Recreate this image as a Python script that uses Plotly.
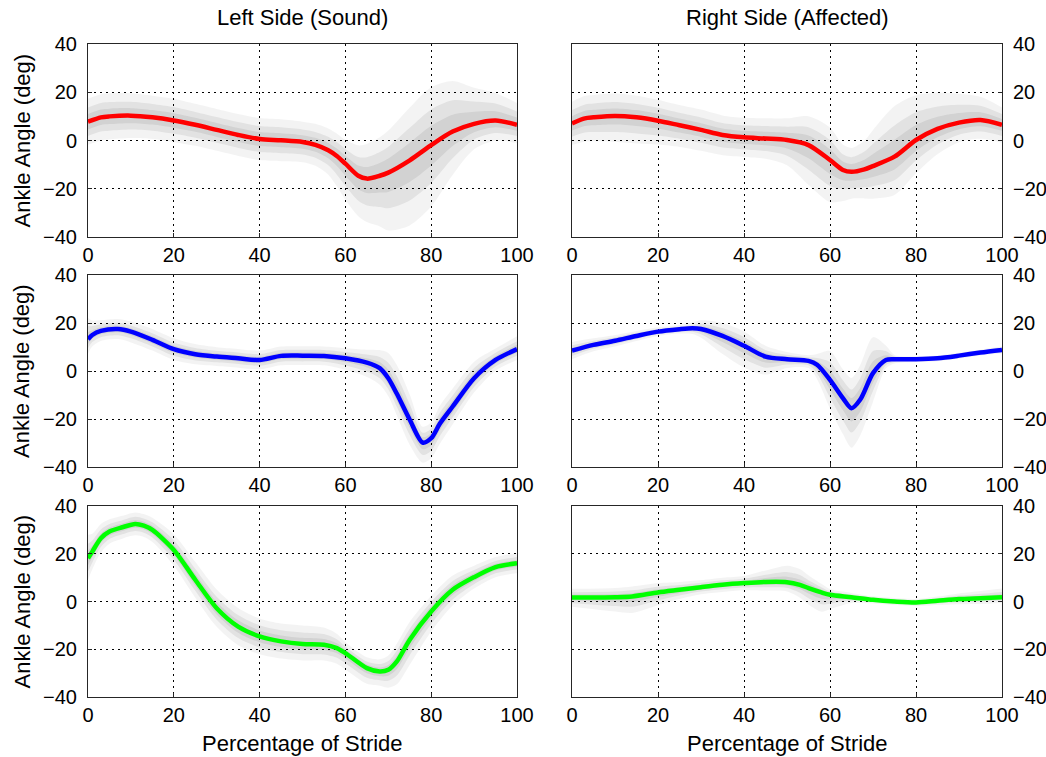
import plotly.graph_objects as go

# ---------------- data ----------------
TITLES = ["Left Side (Sound)", "Right Side (Affected)"]
Y_TITLE = "Ankle Angle (deg)"
X_TITLE = "Percentage of Stride"
X_TICKS = [0, 20, 40, 60, 80, 100]
Y_TICKS = [-40, -20, 0, 20, 40]

# band multipliers of the spread (outer, middle, inner)
BAND_K = [3.0, 1.85, 1.0]

# Row 1, left (red)
x1 = [0, 3, 5, 10, 15, 20, 25, 30, 35, 40, 45, 50, 53, 56, 58, 60, 63, 65, 68, 70, 75, 80, 85, 90, 95, 100]
mean1 = [7.8, 9.6, 10.0, 10.3, 9.6, 8.3, 6.5, 4.4, 2.3, 0.6, 0.1, -0.6, -1.8, -4.0, -6.4, -9.6, -14.6, -15.8, -14.6, -13.3, -8.2, -1.9, 3.7, 6.9, 8.3, 6.5]
up1 = [3.2, 3.2, 3.2, 3.1, 3.0, 3.0, 2.9, 2.9, 2.9, 2.9, 2.9, 2.8, 2.9, 3.0, 3.1, 3.3, 4.2, 4.8, 5.3, 5.8, 7.3, 8.0, 7.0, 5.0, 3.8, 3.0]
dn1 = [3.2, 3.2, 3.2, 3.1, 3.0, 3.0, 2.9, 2.9, 2.9, 2.9, 2.9, 2.8, 2.9, 3.4, 4.2, 5.0, 5.6, 6.0, 7.0, 8.0, 9.0, 8.5, 6.0, 3.5, 2.8, 2.5]

# Row 1, right (red)
x2 = [0, 3, 5, 10, 15, 20, 25, 30, 35, 40, 45, 50, 55, 60, 63, 65, 68, 70, 75, 80, 85, 90, 95, 100]
mean2 = [7.1, 9.2, 9.6, 10.2, 9.6, 8.2, 6.3, 4.4, 2.3, 1.3, 0.8, 0.2, -1.9, -8.1, -12.2, -13.0, -12.0, -10.6, -6.7, 0.2, 4.8, 7.4, 8.5, 6.5]
up2 = [3.0, 3.1, 3.1, 3.1, 3.0, 2.9, 2.8, 2.8, 2.7, 2.7, 2.8, 3.0, 4.0, 4.5, 3.5, 3.3, 4.0, 5.0, 7.0, 6.2, 5.0, 4.0, 3.2, 2.4]
dn2 = [3.0, 3.2, 3.3, 3.6, 3.6, 3.3, 3.0, 2.9, 2.8, 2.7, 2.8, 3.5, 5.5, 5.8, 4.3, 3.7, 4.0, 4.5, 5.3, 4.6, 3.5, 2.7, 2.6, 2.5]

# Row 2, left (blue)
x3 = [0, 1, 3, 7, 10, 15, 20, 25, 30, 35, 40, 45, 50, 55, 60, 65, 68, 70, 72, 75, 78, 80, 82, 85, 90, 95, 100]
mean3 = [13.2, 15.0, 16.7, 17.5, 16.4, 13.0, 9.1, 7.0, 6.0, 5.3, 4.6, 6.3, 6.4, 6.3, 5.3, 3.5, 1.2, -3.0, -9.5, -20.3, -29.8, -28.0, -22.0, -14.8, -3.0, 4.6, 9.1]
up3 = [3.0, 2.0, 1.5, 1.4, 1.4, 1.5, 1.5, 1.4, 1.3, 1.3, 1.3, 1.3, 1.3, 1.3, 1.4, 1.8, 2.5, 3.5, 4.0, 3.5, 2.2, 2.2, 2.5, 2.5, 2.3, 1.6, 1.8]
dn3 = [2.0, 1.6, 1.4, 1.4, 1.5, 1.5, 1.5, 1.4, 1.3, 1.3, 1.3, 1.3, 1.3, 1.3, 1.6, 2.0, 2.3, 2.5, 3.0, 3.5, 2.8, 2.8, 2.8, 2.5, 2.0, 1.5, 1.5]

# Row 2, right (blue)
x4 = [0, 5, 10, 15, 20, 25, 28, 30, 35, 40, 45, 50, 55, 57, 60, 63, 65, 67, 70, 73, 75, 80, 85, 90, 95, 100]
mean4 = [8.5, 10.9, 12.6, 14.6, 16.4, 17.4, 17.8, 17.5, 14.6, 10.5, 6.0, 4.9, 4.2, 2.6, -3.7, -11.3, -15.5, -12.0, -0.9, 4.6, 4.9, 4.9, 5.3, 6.4, 7.7, 8.8]
up4 = [1.2, 0.9, 0.8, 0.7, 0.6, 0.6, 0.8, 1.2, 1.8, 2.0, 1.5, 1.0, 0.8, 1.5, 4.0, 4.0, 4.2, 4.8, 5.0, 2.0, 0.6, 0.4, 0.4, 0.4, 0.4, 0.5]
dn4 = [1.2, 0.9, 0.8, 0.7, 0.6, 0.6, 0.8, 1.2, 2.5, 3.0, 2.5, 1.2, 1.0, 2.0, 4.0, 5.0, 5.5, 5.0, 4.0, 1.2, 0.6, 0.4, 0.4, 0.4, 0.4, 0.5]

# Row 3, left (green)
x5 = [0, 1, 3, 5, 8, 11, 13, 15, 20, 25, 30, 35, 40, 45, 50, 55, 58, 60, 65, 68, 70, 72, 75, 80, 85, 90, 95, 100]
mean5 = [18.1, 20.9, 26.5, 29.3, 31.1, 32.5, 31.8, 30.0, 21.6, 9.1, -2.8, -10.5, -14.6, -16.7, -17.8, -18.1, -19.5, -21.6, -27.9, -29.3, -28.6, -25.1, -16.0, -4.2, 4.9, 10.2, 14.4, 16.0]
up5 = [3.3, 2.5, 2.0, 1.7, 1.6, 1.6, 1.6, 1.7, 2.2, 2.5, 2.6, 2.6, 2.5, 2.5, 2.6, 2.4, 2.0, 1.5, 1.5, 1.7, 2.0, 2.5, 2.5, 2.2, 2.0, 1.6, 1.4, 1.4]
dn5 = [3.0, 2.5, 2.0, 1.7, 1.6, 1.6, 1.6, 1.7, 2.2, 2.5, 2.6, 2.6, 2.5, 2.4, 2.3, 2.2, 2.2, 2.3, 2.2, 2.0, 2.5, 3.2, 3.5, 2.8, 2.2, 1.6, 1.4, 1.4]

# Row 3, right (green)
x6 = [0, 10, 14, 20, 25, 30, 35, 40, 45, 50, 53, 55, 58, 60, 65, 70, 75, 80, 85, 90, 95, 100]
mean6 = [1.7, 1.8, 2.1, 3.8, 4.9, 6.0, 7.0, 7.7, 8.2, 8.1, 7.0, 5.6, 3.8, 2.8, 1.8, 0.7, 0.0, -0.4, 0.3, 1.0, 1.4, 1.8]
up6 = [1.2, 1.3, 1.4, 1.3, 1.1, 1.0, 1.0, 1.0, 1.6, 2.3, 2.2, 1.8, 1.2, 0.8, 0.6, 0.5, 0.5, 0.5, 0.6, 0.8, 1.0, 1.2]
dn6 = [1.3, 2.0, 2.3, 1.8, 1.3, 1.0, 1.0, 1.0, 1.2, 1.3, 1.8, 2.3, 2.7, 2.0, 0.8, 0.5, 0.5, 0.5, 0.6, 0.7, 0.8, 0.8]

PANELS = [
    (x1, mean1, up1, dn1, "#ff0000"),
    (x2, mean2, up2, dn2, "#ff0000"),
    (x3, mean3, up3, dn3, "#0000ff"),
    (x4, mean4, up4, dn4, "#0000ff"),
    (x5, mean5, up5, dn5, "#00ff00"),
    (x6, mean6, up6, dn6, "#00ff00"),
]

# ---------------- styling ----------------
FONT = "Liberation Sans, Arial, Helvetica, sans-serif"
FS = 20
FS_TITLE = 22
BAND_FILL = ["rgba(0,0,0,0.047)", "rgba(0,0,0,0.066)", "rgba(0,0,0,0.07)"]

W, H = 1046, 757
ML, MR, MT, MB = 88, 44, 44, 60
PW, PH = W - ML - MR, H - MT - MB


def xdom(l, r):
    return [(l - ML) / PW, (r - ML) / PW]


def ydom(t, b):
    return [(H - MB - b) / PH, (H - MB - t) / PH]


X_DOMS = [xdom(88, 517), xdom(572, 1002)]
Y_DOMS = [ydom(44, 237), ydom(275, 467), ydom(506, 697)]

fig = go.Figure()

for i, (xs, m, su, sd, col) in enumerate(PANELS):
    n = i + 1
    xa = "x" if n == 1 else f"x{n}"
    ya = "y" if n == 1 else f"y{n}"
    for k, fc in zip(BAND_K, BAND_FILL):
        lo = [mv - k * d for mv, d in zip(m, sd)]
        hi = [mv + k * u for mv, u in zip(m, su)]
        fig.add_trace(go.Scatter(x=xs, y=lo, mode="lines", line=dict(width=0, shape="spline", smoothing=0.8),
                                 xaxis=xa, yaxis=ya, showlegend=False, hoverinfo="skip"))
        fig.add_trace(go.Scatter(x=xs, y=hi, mode="lines", line=dict(width=0, shape="spline", smoothing=0.8),
                                 fill="tonexty", fillcolor=fc,
                                 xaxis=xa, yaxis=ya, showlegend=False, hoverinfo="skip"))
    fig.add_trace(go.Scatter(x=xs, y=m, mode="lines", line=dict(color=col, width=4.5, shape="spline", smoothing=0.8),
                             xaxis=xa, yaxis=ya, showlegend=False))

axis_common = dict(
    showline=True, linecolor="#262626", linewidth=1, mirror=True,
    showgrid=True, gridcolor="#000000", gridwidth=1, griddash="2px,4px",
    zeroline=False, ticks="inside", ticklen=4, tickcolor="#262626",
    tickfont=dict(family=FONT, size=FS, color="#000000"),
    automargin=False,
)

layout = dict(
    width=W, height=H,
    margin=dict(l=ML, r=MR, t=MT, b=MB, autoexpand=False),
    paper_bgcolor="white", plot_bgcolor="white",
    showlegend=False,
    font=dict(family=FONT, size=FS, color="#000000"),
)

for i in range(6):
    n = i + 1
    row, colidx = divmod(i, 2)
    xkey = "xaxis" if n == 1 else f"xaxis{n}"
    ykey = "yaxis" if n == 1 else f"yaxis{n}"
    layout[xkey] = dict(axis_common, domain=X_DOMS[colidx], range=[0, 100],
                        tickvals=X_TICKS, anchor="y" if n == 1 else f"y{n}")
    layout[ykey] = dict(axis_common, domain=Y_DOMS[row], range=[-40, 40],
                        tickvals=Y_TICKS, anchor="x" if n == 1 else f"x{n}",
                        side="left" if colidx == 0 else "right",
                        ticklabelstandoff=6)

annotations = []
for c, t in enumerate(TITLES):
    annotations.append(dict(text=t, xref="paper", yref="paper",
                            x=sum(X_DOMS[c]) / 2, y=1, xanchor="center", yanchor="middle",
                            yshift=27, showarrow=False, font=dict(family=FONT, size=FS_TITLE)))
    annotations.append(dict(text=X_TITLE, xref="paper", yref="paper",
                            x=sum(X_DOMS[c]) / 2, y=0, xanchor="center", yanchor="middle",
                            yshift=-46, showarrow=False, font=dict(family=FONT, size=FS_TITLE)))
for r in range(3):
    annotations.append(dict(text=Y_TITLE, xref="paper", yref="paper",
                            x=0, y=sum(Y_DOMS[r]) / 2, xanchor="center", yanchor="middle",
                            xshift=-66, textangle=-90, showarrow=False, font=dict(family=FONT, size=FS_TITLE)))
layout["annotations"] = annotations

fig.update_layout(**layout)
fig.write_html("out.html")
